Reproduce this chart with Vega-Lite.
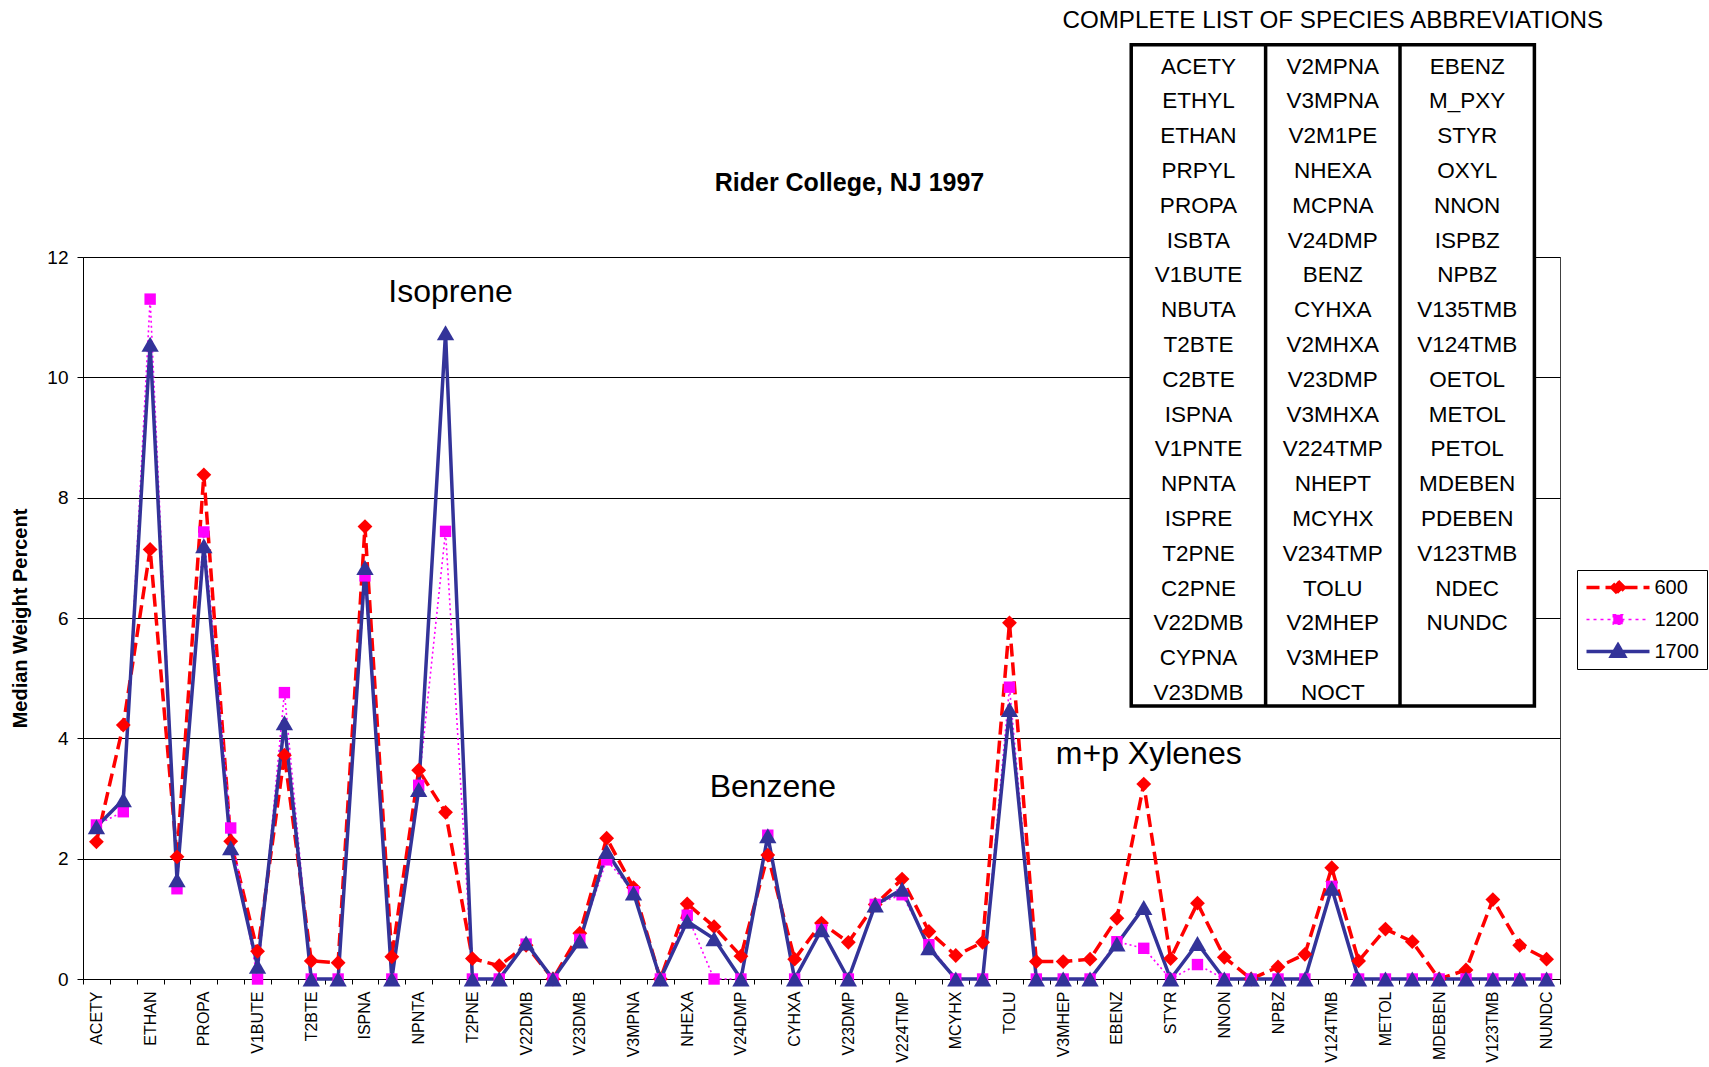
{
  "$schema": "https://vega.github.io/schema/vega-lite/v6.json",
  "width": 1477,
  "height": 722,
  "autosize": {"type": "none"},
  "padding": {"left": 83, "top": 257, "right": 149, "bottom": 88},
  "background": "white",
  "config": {
    "font": "Liberation Sans",
    "view": {"stroke": "#404040", "strokeWidth": 1}
  },
  "title": {
    "text": "Rider College, NJ 1997",
    "fontSize": 25,
    "fontWeight": "bold",
    "color": "black",
    "anchor": "middle",
    "frame": "group",
    "baseline": "middle",
    "offset": 0,
    "dx": 28,
    "dy": 199
  },
  "datasets": {
    "vocs": [
      {"species": "ACETY", "600": 2.28, "1200": 2.56, "1700": 2.53},
      {"species": "ETHYL", "600": 4.22, "1200": 2.78, "1700": 2.98},
      {"species": "ETHAN", "600": 7.14, "1200": 11.3, "1700": 10.55},
      {"species": "PRPYL", "600": 2.03, "1200": 1.5, "1700": 1.65},
      {"species": "PROPA", "600": 8.38, "1200": 7.43, "1700": 7.2},
      {"species": "ISBTA", "600": 2.29, "1200": 2.51, "1700": 2.18},
      {"species": "V1BUTE", "600": 0.46, "1200": 0, "1700": 0.21},
      {"species": "NBUTA", "600": 3.72, "1200": 4.76, "1700": 4.26},
      {"species": "T2BTE", "600": 0.3, "1200": 0, "1700": 0},
      {"species": "C2BTE", "600": 0.27, "1200": 0, "1700": 0},
      {"species": "ISPNA", "600": 7.52, "1200": 6.7, "1700": 6.84},
      {"species": "V1PNTE", "600": 0.37, "1200": 0, "1700": 0},
      {"species": "NPNTA", "600": 3.47, "1200": 3.22, "1700": 3.15},
      {"species": "ISPRE", "600": 2.77, "1200": 7.44, "1700": 10.74},
      {"species": "T2PNE", "600": 0.34, "1200": 0, "1700": 0},
      {"species": "C2PNE", "600": 0.22, "1200": 0, "1700": 0},
      {"species": "V22DMB", "600": 0.56, "1200": 0.58, "1700": 0.6},
      {"species": "CYPNA", "600": 0, "1200": 0, "1700": 0},
      {"species": "V23DMB", "600": 0.76, "1200": 0.66, "1700": 0.63},
      {"species": "V2MPNA", "600": 2.34, "1200": 1.98, "1700": 2.12},
      {"species": "V3MPNA", "600": 1.52, "1200": 1.45, "1700": 1.43},
      {"species": "V2M1PE", "600": 0, "1200": 0, "1700": 0},
      {"species": "NHEXA", "600": 1.25, "1200": 1.06, "1700": 0.96},
      {"species": "MCPNA", "600": 0.87, "1200": 0, "1700": 0.67},
      {"species": "V24DMP", "600": 0.38, "1200": 0, "1700": 0},
      {"species": "BENZ", "600": 2.06, "1200": 2.39, "1700": 2.38},
      {"species": "CYHXA", "600": 0.33, "1200": 0, "1700": 0},
      {"species": "V2MHXA", "600": 0.93, "1200": 0.82, "1700": 0.82},
      {"species": "V23DMP", "600": 0.61, "1200": 0, "1700": 0},
      {"species": "V3MHXA", "600": 1.24, "1200": 1.24, "1700": 1.23},
      {"species": "V224TMP", "600": 1.66, "1200": 1.4, "1700": 1.49},
      {"species": "NHEPT", "600": 0.79, "1200": 0.57, "1700": 0.52},
      {"species": "MCYHX", "600": 0.39, "1200": 0, "1700": 0},
      {"species": "V234TMP", "600": 0.61, "1200": 0, "1700": 0},
      {"species": "TOLU", "600": 5.92, "1200": 4.85, "1700": 4.48},
      {"species": "V2MHEP", "600": 0.29, "1200": 0, "1700": 0},
      {"species": "V3MHEP", "600": 0.29, "1200": 0, "1700": 0},
      {"species": "NOCT", "600": 0.33, "1200": 0, "1700": 0},
      {"species": "EBENZ", "600": 1.01, "1200": 0.62, "1700": 0.58},
      {"species": "M_PXY", "600": 3.24, "1200": 0.51, "1700": 1.19},
      {"species": "STYR", "600": 0.34, "1200": 0, "1700": 0},
      {"species": "OXYL", "600": 1.26, "1200": 0.24, "1700": 0.59},
      {"species": "NNON", "600": 0.36, "1200": 0, "1700": 0},
      {"species": "ISPBZ", "600": 0, "1200": 0, "1700": 0},
      {"species": "NPBZ", "600": 0.2, "1200": 0, "1700": 0},
      {"species": "V135TMB", "600": 0.41, "1200": 0, "1700": 0},
      {"species": "V124TMB", "600": 1.85, "1200": 1.54, "1700": 1.51},
      {"species": "OETOL", "600": 0.3, "1200": 0, "1700": 0},
      {"species": "METOL", "600": 0.83, "1200": 0, "1700": 0},
      {"species": "PETOL", "600": 0.62, "1200": 0, "1700": 0},
      {"species": "MDEBEN", "600": 0, "1200": 0, "1700": 0},
      {"species": "PDEBEN", "600": 0.15, "1200": 0, "1700": 0},
      {"species": "V123TMB", "600": 1.32, "1200": 0, "1700": 0},
      {"species": "NDEC", "600": 0.56, "1200": 0, "1700": 0},
      {"species": "NUNDC", "600": 0.33, "1200": 0, "1700": 0}
    ],
    "notes": [
      {"label": "Isoprene", "species": "ISPRE", "value": 11.42},
      {"label": "Benzene", "species": "BENZ", "value": 3.19},
      {"label": "m+p Xylenes", "species": "M_PXY", "value": 3.74}
    ],
    "abbreviations": [
      {"abbr": "ACETY", "col": 1, "row": 1}, {"abbr": "ETHYL", "col": 1, "row": 2}, {"abbr": "ETHAN", "col": 1, "row": 3},
      {"abbr": "PRPYL", "col": 1, "row": 4}, {"abbr": "PROPA", "col": 1, "row": 5}, {"abbr": "ISBTA", "col": 1, "row": 6},
      {"abbr": "V1BUTE", "col": 1, "row": 7}, {"abbr": "NBUTA", "col": 1, "row": 8}, {"abbr": "T2BTE", "col": 1, "row": 9},
      {"abbr": "C2BTE", "col": 1, "row": 10}, {"abbr": "ISPNA", "col": 1, "row": 11}, {"abbr": "V1PNTE", "col": 1, "row": 12},
      {"abbr": "NPNTA", "col": 1, "row": 13}, {"abbr": "ISPRE", "col": 1, "row": 14}, {"abbr": "T2PNE", "col": 1, "row": 15},
      {"abbr": "C2PNE", "col": 1, "row": 16}, {"abbr": "V22DMB", "col": 1, "row": 17}, {"abbr": "CYPNA", "col": 1, "row": 18},
      {"abbr": "V23DMB", "col": 1, "row": 19},
      {"abbr": "V2MPNA", "col": 2, "row": 1}, {"abbr": "V3MPNA", "col": 2, "row": 2}, {"abbr": "V2M1PE", "col": 2, "row": 3},
      {"abbr": "NHEXA", "col": 2, "row": 4}, {"abbr": "MCPNA", "col": 2, "row": 5}, {"abbr": "V24DMP", "col": 2, "row": 6},
      {"abbr": "BENZ", "col": 2, "row": 7}, {"abbr": "CYHXA", "col": 2, "row": 8}, {"abbr": "V2MHXA", "col": 2, "row": 9},
      {"abbr": "V23DMP", "col": 2, "row": 10}, {"abbr": "V3MHXA", "col": 2, "row": 11}, {"abbr": "V224TMP", "col": 2, "row": 12},
      {"abbr": "NHEPT", "col": 2, "row": 13}, {"abbr": "MCYHX", "col": 2, "row": 14}, {"abbr": "V234TMP", "col": 2, "row": 15},
      {"abbr": "TOLU", "col": 2, "row": 16}, {"abbr": "V2MHEP", "col": 2, "row": 17}, {"abbr": "V3MHEP", "col": 2, "row": 18},
      {"abbr": "NOCT", "col": 2, "row": 19},
      {"abbr": "EBENZ", "col": 3, "row": 1}, {"abbr": "M_PXY", "col": 3, "row": 2}, {"abbr": "STYR", "col": 3, "row": 3},
      {"abbr": "OXYL", "col": 3, "row": 4}, {"abbr": "NNON", "col": 3, "row": 5}, {"abbr": "ISPBZ", "col": 3, "row": 6},
      {"abbr": "NPBZ", "col": 3, "row": 7}, {"abbr": "V135TMB", "col": 3, "row": 8}, {"abbr": "V124TMB", "col": 3, "row": 9},
      {"abbr": "OETOL", "col": 3, "row": 10}, {"abbr": "METOL", "col": 3, "row": 11}, {"abbr": "PETOL", "col": 3, "row": 12},
      {"abbr": "MDEBEN", "col": 3, "row": 13}, {"abbr": "PDEBEN", "col": 3, "row": 14}, {"abbr": "V123TMB", "col": 3, "row": 15},
      {"abbr": "NDEC", "col": 3, "row": 16}, {"abbr": "NUNDC", "col": 3, "row": 17}
    ]
  },
  "layer": [
    {
      "data": {"name": "vocs"},
      "transform": [{"fold": ["600", "1200", "1700"], "as": ["series", "value"]}],
      "encoding": {
        "x": {
          "field": "species",
          "type": "nominal",
          "bandPosition": 0.5,
          "sort": ["ACETY","ETHYL","ETHAN","PRPYL","PROPA","ISBTA","V1BUTE","NBUTA","T2BTE","C2BTE","ISPNA","V1PNTE","NPNTA","ISPRE","T2PNE","C2PNE","V22DMB","CYPNA","V23DMB","V2MPNA","V3MPNA","V2M1PE","NHEXA","MCPNA","V24DMP","BENZ","CYHXA","V2MHXA","V23DMP","V3MHXA","V224TMP","NHEPT","MCYHX","V234TMP","TOLU","V2MHEP","V3MHEP","NOCT","EBENZ","M_PXY","STYR","OXYL","NNON","ISPBZ","NPBZ","V135TMB","V124TMB","OETOL","METOL","PETOL","MDEBEN","PDEBEN","V123TMB","NDEC","NUNDC"],
          "scale": {"type": "band", "paddingInner": 0, "paddingOuter": 0},
          "axis": {
            "title": null,
            "orient": "bottom",
            "grid": false,
            "labelAngle": -90,
            "labelFontSize": 16,
            "labelColor": "black",
            "labelPadding": 7,
            "labelOverlap": false,
            "tickSize": 5,
            "tickColor": "black",
            "tickBand": "extent",
            "domainColor": "black",
            "labelExpr": "indexof(['ACETY','ETHAN','PROPA','V1BUTE','T2BTE','ISPNA','NPNTA','T2PNE','V22DMB','V23DMB','V3MPNA','NHEXA','V24DMP','CYHXA','V23DMP','V224TMP','MCYHX','TOLU','V3MHEP','EBENZ','STYR','NNON','NPBZ','V124TMB','METOL','MDEBEN','V123TMB','NUNDC'], datum.value) >= 0 ? datum.label : ''"
          }
        },
        "y": {
          "field": "value",
          "type": "quantitative",
          "scale": {"domain": [0, 12], "nice": false, "zero": true},
          "axis": {
            "title": "Median Weight Percent",
            "orient": "left",
            "titleFontSize": 20,
            "titleFontWeight": "bold",
            "titleColor": "black",
            "titlePadding": 16,
            "values": [0, 2, 4, 6, 8, 10, 12],
            "labelFontSize": 19,
            "labelColor": "black",
            "labelPadding": 9,
            "tickSize": 6,
            "tickColor": "black",
            "domainColor": "black",
            "grid": true,
            "gridColor": "black",
            "gridWidth": 1
          }
        }
      },
      "layer": [
        {
          "transform": [{"filter": "datum.series === '600'"}],
          "mark": {"type": "line", "strokeDash": [13, 6], "strokeWidth": 3.5},
          "encoding": {
            "color": {
              "field": "series",
              "type": "nominal",
              "scale": {"domain": ["600", "1200", "1700"], "range": ["#FF0000", "#FF00FF", "#333399"]},
              "legend": {
                "title": null,
                "orient": "none",
                "legendX": 1494,
                "legendY": 313,
                "strokeColor": "black",
                "fillColor": "white",
                "padding": 7.5,
                "labelFontSize": 20,
                "labelColor": "black",
                "labelOffset": 3,
                "rowPadding": 12,
                "symbolSize": 3969,
                "symbolStrokeWidth": 3,
                "clipHeight": 20,
                "encode": {
                  "symbols": {
                    "update": {
                      "size": {"value": 3969},
                      "shape": {"signal": "(datum.value === '600' ? 'M-1,0H1M0,-0.2L0.2,0L0,0.2L-0.2,0Z' : datum.value === '1200' ? 'M-1,0H1M-0.15,-0.15H0.15V0.15H-0.15Z' : 'M-1,0H1M0,-0.21L0.21,0.15L-0.21,0.15Z')"},
                      "fill": {"signal": "(scale('color', datum.value))"},
                      "stroke": {"signal": "(scale('color', datum.value))"},
                      "strokeWidth": {"signal": "(datum.value === '1200' ? 1.5 : 3.5)"},
                      "strokeDash": {"signal": "(datum.value === '600' ? [13, 6] : datum.value === '1200' ? [3, 4] : [1, 0])"},
                      "opacity": {"value": 1},
                      "fillOpacity": {"value": 1}
                    }
                  }
                }
              }
            }
          }
        },
        {
          "transform": [{"filter": "datum.series === '1200'"}],
          "mark": {"type": "line", "strokeDash": [2, 3], "strokeWidth": 1.6},
          "encoding": {"color": {"field": "series", "type": "nominal", "scale": {"domain": ["600", "1200", "1700"], "range": ["#FF0000", "#FF00FF", "#333399"]}}}
        },
        {
          "transform": [{"filter": "datum.series === '1700'"}],
          "mark": {"type": "line", "strokeWidth": 3.5},
          "encoding": {"color": {"field": "series", "type": "nominal", "scale": {"domain": ["600", "1200", "1700"], "range": ["#FF0000", "#FF00FF", "#333399"]}}}
        },
        {
          "transform": [{"filter": "datum.series === '600'"}],
          "mark": {"type": "point", "filled": true, "shape": "diamond", "size": 220, "opacity": 1},
          "encoding": {"color": {"field": "series", "type": "nominal", "scale": {"domain": ["600", "1200", "1700"], "range": ["#FF0000", "#FF00FF", "#333399"]}}}
        },
        {
          "transform": [{"filter": "datum.series === '1200'"}],
          "mark": {"type": "point", "filled": true, "shape": "square", "size": 130, "opacity": 1},
          "encoding": {"color": {"field": "series", "type": "nominal", "scale": {"domain": ["600", "1200", "1700"], "range": ["#FF0000", "#FF00FF", "#333399"]}}}
        },
        {
          "transform": [{"filter": "datum.series === '1700'"}],
          "mark": {"type": "point", "filled": true, "shape": "triangle-up", "size": 300, "opacity": 1},
          "encoding": {"color": {"field": "series", "type": "nominal", "scale": {"domain": ["600", "1200", "1700"], "range": ["#FF0000", "#FF00FF", "#333399"]}}}
        },
        {
          "data": {"name": "notes"},
          "mark": {"type": "text", "fontSize": 32, "align": "center", "baseline": "middle", "color": "black", "dx": 5},
          "encoding": {"text": {"field": "label"}}
        }
      ]
    },
    {
      "data": {"name": "abbreviations"},
      "layer": [
        {
          "data": {"values": [{}]},
          "mark": {"type": "rect", "fill": "white", "stroke": "black", "strokeWidth": 3.5},
          "encoding": {
            "x": {"datum": 0.5, "type": "quantitative", "scale": {"domain": [-7.2997, 3.6905], "zero": false, "nice": false}, "axis": null},
            "x2": {"datum": 3.5},
            "y": {"datum": 0.374, "type": "quantitative", "scale": {"domain": [6.474, 27.221], "reverse": true, "zero": false, "nice": false}, "axis": null},
            "y2": {"datum": 19.376}
          }
        },
        {
          "data": {"values": [{}]},
          "mark": {"type": "rule", "stroke": "black", "strokeWidth": 3.5},
          "encoding": {
            "x": {"datum": 1.5, "type": "quantitative", "axis": null},
            "y": {"datum": 0.374, "type": "quantitative", "axis": null},
            "y2": {"datum": 19.376}
          }
        },
        {
          "data": {"values": [{}]},
          "mark": {"type": "rule", "stroke": "black", "strokeWidth": 3.5},
          "encoding": {
            "x": {"datum": 2.5, "type": "quantitative", "axis": null},
            "y": {"datum": 0.374, "type": "quantitative", "axis": null},
            "y2": {"datum": 19.376}
          }
        },
        {
          "mark": {"type": "text", "fontSize": 22.5, "align": "center", "baseline": "middle", "color": "black"},
          "encoding": {
            "x": {"field": "col", "type": "quantitative", "axis": null},
            "y": {"field": "row", "type": "quantitative", "axis": null},
            "text": {"field": "abbr"}
          }
        },
        {
          "data": {"values": [{}]},
          "mark": {"type": "text", "text": "COMPLETE LIST OF SPECIES ABBREVIATIONS", "fontSize": 24.2, "align": "center", "baseline": "middle", "color": "black"},
          "encoding": {
            "x": {"datum": 2, "type": "quantitative", "axis": null},
            "y": {"datum": -0.316, "type": "quantitative", "axis": null}
          }
        }
      ]
    }
  ],
  "resolve": {
    "scale": {"x": "independent", "y": "independent"},
    "axis": {"x": "independent", "y": "independent"}
  }
}
